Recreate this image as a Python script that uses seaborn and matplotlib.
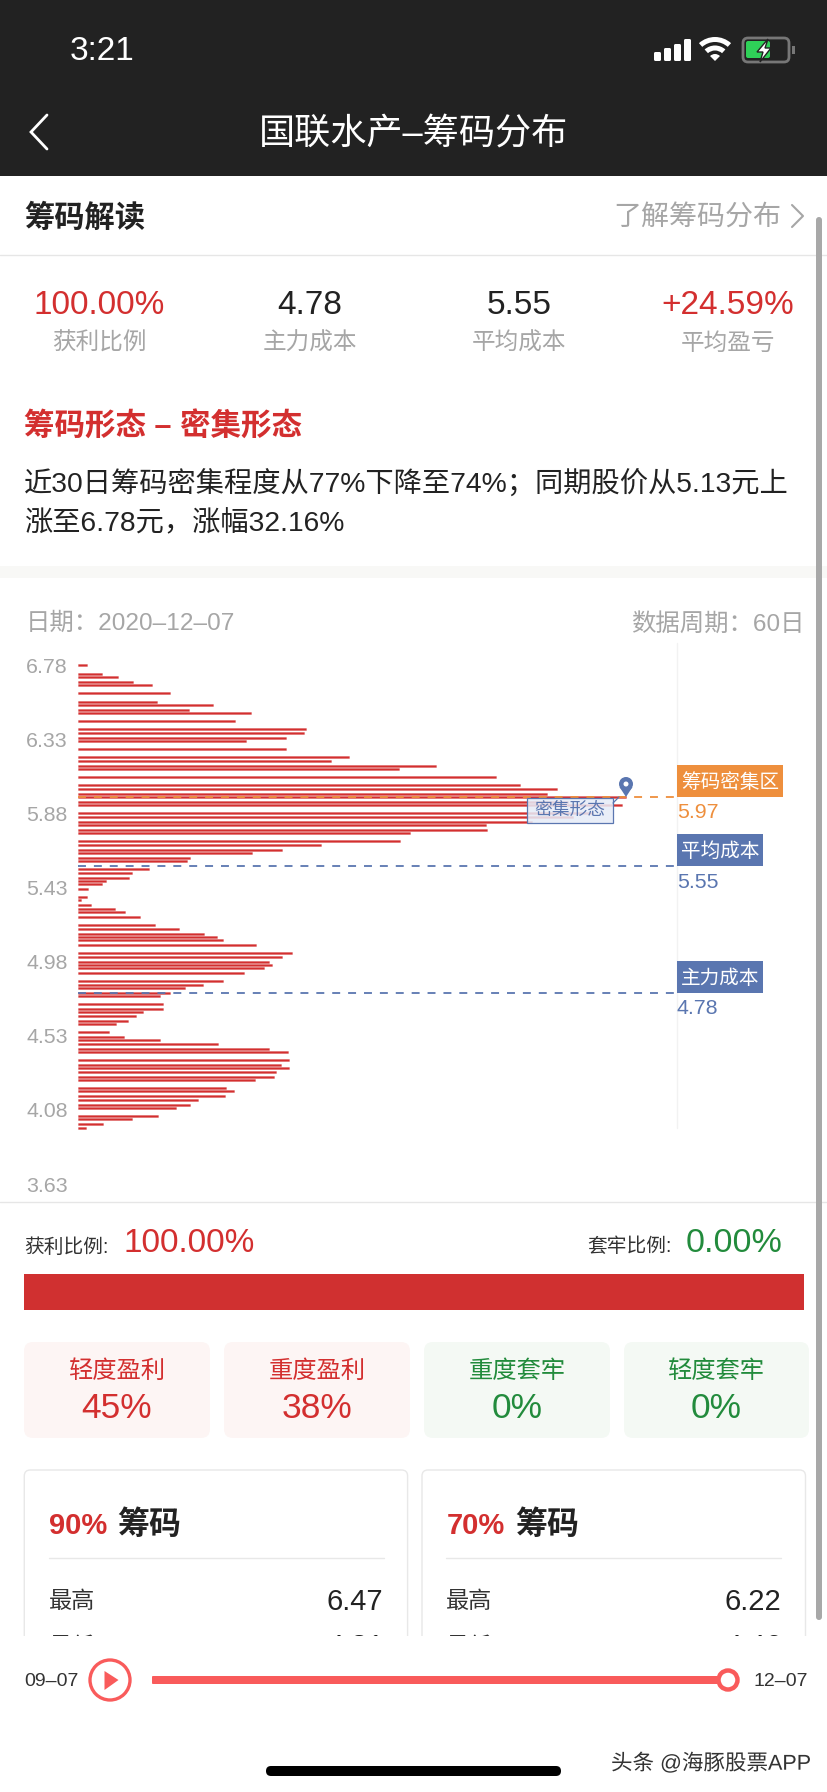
import matplotlib
matplotlib.use('Agg')
import matplotlib.pyplot as plt
import matplotlib.patheffects as pe
from matplotlib.patches import Rectangle, FancyBboxPatch, Circle, Polygon, Wedge
import pandas as pd
import seaborn as sns

# chip distribution
prices = [6.780, 6.729, 6.709, 6.679, 6.659, 6.610, 6.559, 6.539, 6.509, 6.489,
          6.440, 6.391, 6.371, 6.339, 6.321, 6.270, 6.221, 6.201, 6.169, 6.151,
          6.100, 6.051, 6.029, 6.001, 5.981, 5.952, 5.932, 5.881, 5.861, 5.829,
          5.811, 5.780, 5.760, 5.711, 5.689, 5.661, 5.643, 5.612, 5.592, 5.541,
          5.521, 5.491, 5.473, 5.450, 5.422, 5.373, 5.353, 5.323, 5.303, 5.282,
          5.252, 5.201, 5.181, 5.151, 5.130, 5.112, 5.082, 5.031, 5.011, 4.981,
          4.962, 4.942, 4.912, 4.861, 4.841, 4.821, 4.792, 4.772, 4.722, 4.691,
          4.673, 4.653, 4.622, 4.602, 4.552, 4.523, 4.503, 4.483, 4.452, 4.432,
          4.384, 4.353, 4.333, 4.313, 4.282, 4.262, 4.214, 4.193, 4.163, 4.143,
          4.112, 4.094, 4.044, 4.023, 3.993, 3.973]
chips = [9, 24.3, 39.7, 55, 73.7, 92, 79, 135, 111, 173,
         157, 227.7, 226, 208, 168, 207.7, 271, 253.3, 358, 321,
         417.7, 442, 479, 468.7, 548, 490, 543.7, 515, 495, 453.7,
         408, 409, 332, 322, 243, 204.3, 174.3, 111.7, 109, 70.7,
         54, 50.7, 28, 23.7, 9.7, 8.7, 2.7, 13, 37, 47.3,
         62.3, 77, 101.3, 125.7, 139.3, 144.7, 177.7, 214, 203.7, 191,
         193.7, 185.7, 166, 145.3, 125, 107.3, 92, 82, 85.3, 85.3,
         64.7, 58, 49.7, 38.3, 31.3, 46, 82, 140, 191, 209.7,
         210.7, 202.7, 211, 197.7, 196, 177, 147.7, 155.7, 147, 119.7,
         112.3, 97.7, 80, 54, 25, 7.7]
tick_prices = [6.78, 6.33, 5.88, 5.43, 4.98, 4.53, 4.08, 3.63]
tick_labels = ['6.78', '6.33', '5.88', '5.43', '4.98', '4.53', '4.08', '3.63']

dense_price = 5.97
avg_cost = 5.55
main_cost = 4.78

stat_values = ['100.00%', '4.78', '5.55', '+24.59%']
stat_labels = ['获利比例', '主力成本', '平均成本', '平均盈亏']
card_titles = ['轻度盈利', '重度盈利', '重度套牢', '轻度套牢']
card_values = ['45%', '38%', '0%', '0%']
profit_ratio = [100.0]

RED = '#d32f2f'
GREEN = '#228b3c'
BLUE = '#5a76b0'
ORANGE = '#ee8f3d'
GRAY = '#a6a6a6'
DARK = '#222222'
SLIDER = '#f95b5b'

sns.set_theme(style='white')
plt.rcParams['font.family'] = ['Liberation Sans', 'Noto Sans CJK SC', 'DejaVu Sans']

fig = plt.figure(figsize=(8.28, 17.92), dpi=100, facecolor='white')


def pixel_axes(z):
    a = fig.add_axes([0, 0, 1, 1], zorder=z)
    a.set_xlim(0, 828)
    a.set_ylim(1792, 0)
    a.axis('off')
    a.patch.set_alpha(0)
    return a


def label(a, x, y, s, size, color, ha='left', weight='normal', **kw):
    # text sits a touch high with va=center, nudge it down
    return a.text(x, y + 2, s, fontsize=size, color=color, ha=ha, va='center', weight=weight, **kw)


def rbox(a, x0, y0, x1, y1, r, fc, ec='none', lw=0, z=2):
    a.add_patch(FancyBboxPatch((x0, y0), x1 - x0, y1 - y0, boxstyle=f'round,pad=0,rounding_size={r}',
                               fc=fc, ec=ec, lw=lw, zorder=z))


ui = pixel_axes(0)
top = pixel_axes(3)

# header
ui.add_patch(Rectangle((0, 0), 828, 176, fc=DARK, ec='none'))
label(ui, 102, 50, '3:21', 24, 'white', ha='center')
label(ui, 414, 132, '国联水产–筹码分布', 26, 'white', ha='center')
ui.plot([47, 31, 47], [115, 132, 149], color='white', lw=2, solid_joinstyle='miter')

# status icons
for bx, bh in zip([654, 664, 674, 684], [9, 13, 17, 22]):
    rbox(ui, bx, 61 - bh, bx + 7, 61, 1.5, 'white')
for r, w in [(24, 5), (15.5, 5)]:
    ui.add_patch(Wedge((715, 61), r, 228, 312, width=w, fc='white', ec='none'))
ui.add_patch(Wedge((715, 61), 7, 225, 315, fc='white', ec='none'))
rbox(ui, 743, 38, 789, 62, 5, 'none', ec='#777777', lw=2)
rbox(ui, 746, 41, 770, 58, 2, '#2fd158')
ui.add_patch(Polygon([(768, 39), (757, 52), (763, 52), (760, 62), (771, 48), (765, 48)], fc='white', ec=DARK, lw=1, zorder=3))
ui.add_patch(Rectangle((792, 46), 3, 8, fc='#777777', ec='none'))

# interpretation section
label(ui, 24, 216, '筹码解读', 21.8, DARK, weight='bold')
label(ui, 781, 217, '了解筹码分布', 20.2, GRAY, ha='right')
ui.plot([792, 803, 792], [205, 216, 227], color=GRAY, lw=1.5)
ui.plot([0, 828], [255, 255], color='#e6e6e6', lw=1)
for x, v, n, c in zip([99, 310, 519, 728], stat_values, stat_labels, [RED, DARK, DARK, RED]):
    label(ui, x, 303, v, 24, c, ha='center')
    label(ui, x, 342, n, 17, GRAY, ha='center')

label(ui, 24, 425, '筹码形态 – 密集形态', 22, RED, weight='bold')
label(ui, 24, 483, '近30日筹码密集程度从77%下降至74%；同期股价从5.13元上', 20.35, DARK)
label(ui, 24, 522, '涨至6.78元，涨幅32.16%', 20.35, DARK)
ui.add_patch(Rectangle((0, 566), 828, 12, fc='#f8f8f6', ec='none'))

label(ui, 26, 622, '日期：2020–12–07', 17.6, GRAY)
label(ui, 805, 622, '数据周期：60日', 17.6, GRAY, ha='right')

# chip chart
df = pd.DataFrame({'price': prices, 'chips': chips})
ax = fig.add_axes([78 / 828, 1 - 1200 / 1792, 599 / 828, 560 / 1792], zorder=1)
sns.barplot(data=df, x='chips', y='price', orient='y', native_scale=True, width=0.67, color=RED,
            saturation=1, edgecolor=(0.83, 0.18, 0.18, 0.3), linewidth=0.6, ax=ax)
ax.set_xlim(0, 599)
ax.set_ylim(3.5335, 6.9336)
ax.patch.set_alpha(0)
ax.set_xticks([])
ax.set_yticks(tick_prices, tick_labels, fontsize=15.4, color=GRAY)
ax.tick_params(axis='y', length=0, pad=7.5)
ax.set_xlabel('')
ax.set_ylabel('')
sns.despine(ax=ax, left=True, bottom=True)
dash = (0, (4.4, 4.4))
ax.axhline(dense_price + 0.01, color=ORANGE, lw=1.3, ls=dash)
ax.axhline(avg_cost + 0.011, color=BLUE, lw=1.3, ls=dash)
ax.axhline(main_cost + 0.011, color=BLUE, lw=1.3, ls=dash)
ui.plot([677, 677], [643, 1128], color='#f2f2f2', lw=1)

# price tags on the right
for y0, y1, x1, s, c, val, vy in [(765, 797, 783, '筹码密集区', ORANGE, f'{dense_price:.2f}', 811),
                                  (834, 866, 763, '平均成本', BLUE, f'{avg_cost:.2f}', 880),
                                  (961, 993, 763, '主力成本', BLUE, f'{main_cost:.2f}', 1007)]:
    top.add_patch(Rectangle((677, y0), x1 - 677, y1 - y0, fc=c, ec='none'))
    label(top, 681, (y0 + y1) / 2 - 1, s, 14.1, 'white')
    label(top, 677, vy, val, 15.4, c)

# pin and shape tag
top.add_patch(Circle((626, 784), 7, fc=BLUE, ec='none'))
top.add_patch(Polygon([(619.5, 787), (632.5, 787), (626, 797)], fc=BLUE, ec='none'))
top.add_patch(Circle((626, 784), 2.5, fc='white', ec='none'))
top.add_patch(Rectangle((527, 798), 86, 25, fc=(0.9, 0.925, 0.97, 0.86), ec=BLUE, lw=0.9))
top.plot([613, 619], [803, 797], color=BLUE, lw=0.9)
label(top, 570, 809, '密集形态', 12.8, BLUE, ha='center')

# profit / trapped ratio
ui.plot([0, 828], [1202, 1202], color='#e6e6e6', lw=1)
label(ui, 24, 1245, '获利比例:', 14.2, '#333333')
label(ui, 124, 1241, '100.00%', 24, RED)
label(ui, 587, 1245, '套牢比例:', 14.2, '#333333')
label(ui, 686, 1241, '0.00%', 24.5, GREEN)

bar_ax = fig.add_axes([24 / 828, 1 - 1310 / 1792, 780 / 828, 36 / 1792], zorder=1)
sns.barplot(x=profit_ratio, y=['获利'], orient='y', width=1, color='#d03030', saturation=1, linewidth=0, ax=bar_ax)
bar_ax.set_xlim(0, 100)
bar_ax.axis('off')

card_x = [(24, 210), (224, 410), (424, 610), (624, 809)]
for (x0, x1), n, v, c, bg in zip(card_x, card_titles, card_values, [RED, RED, GREEN, GREEN],
                                 ['#fdf5f4', '#fdf5f4', '#f4f9f4', '#f4f9f4']):
    rbox(ui, x0, 1342, x1, 1438, 9, bg)
    label(ui, (x0 + x1) / 2, 1370, n, 17.5, c, ha='center', zorder=3)
    label(ui, (x0 + x1) / 2, 1407, v, 25.5, c, ha='center', zorder=3)

# 90% and 70% chip boxes, cut off by the bottom panel
for x0, x1, pct, high, low in [(24.3, 407.6, '90%', '6.47', '4.31'), (422, 805.5, '70%', '6.22', '4.46')]:
    rbox(ui, x0, 1470, x1, 1700, 6, 'white', ec='#e8e8e8', lw=1)
    label(ui, x0 + 24.3, 1524, pct, 21, RED, weight='bold', zorder=3)
    label(ui, x0 + 93, 1524, '筹码', 23, DARK, weight='bold', zorder=3)
    ui.plot([x0 + 24.3, x1 - 24], [1558, 1558], color='#e8e8e8', lw=1, zorder=3)
    label(ui, x0 + 24.3, 1600, '最高', 16.7, '#333333', zorder=3)
    label(ui, x1 - 24, 1600, high, 21, DARK, ha='right', zorder=3)
    label(ui, x0 + 24.3, 1645, '最低', 16.7, '#333333', zorder=3)
    label(ui, x1 - 24, 1645, low, 21, DARK, ha='right', zorder=3)

# bottom player panel
top.add_patch(Rectangle((0, 1636), 828, 156, fc='white', ec='none'))
label(top, 24, 1680, '09–07', 14, '#333333')
top.add_patch(Circle((110, 1680), 20, fc='white', ec=SLIDER, lw=2.4))
top.add_patch(Polygon([(104.5, 1671), (118.5, 1680), (104.5, 1690)], fc=SLIDER, ec='none'))
rbox(top, 152, 1676, 728, 1684, 1, SLIDER)
top.add_patch(Circle((728, 1680), 9.5, fc='white', ec=SLIDER, lw=3.2, zorder=4))
label(top, 754, 1680, '12–07', 14, '#333333')
rbox(top, 266, 1766, 561, 1776, 5, 'black')
label(top, 611, 1762, '头条 @海豚股票APP', 15.5, '#333333',
      path_effects=[pe.withStroke(linewidth=2, foreground='white')])

# scrollbar
rbox(top, 816, 217, 822, 1620, 3, '#a8a8a8', z=5)

fig.savefig('out.png', dpi=100)
